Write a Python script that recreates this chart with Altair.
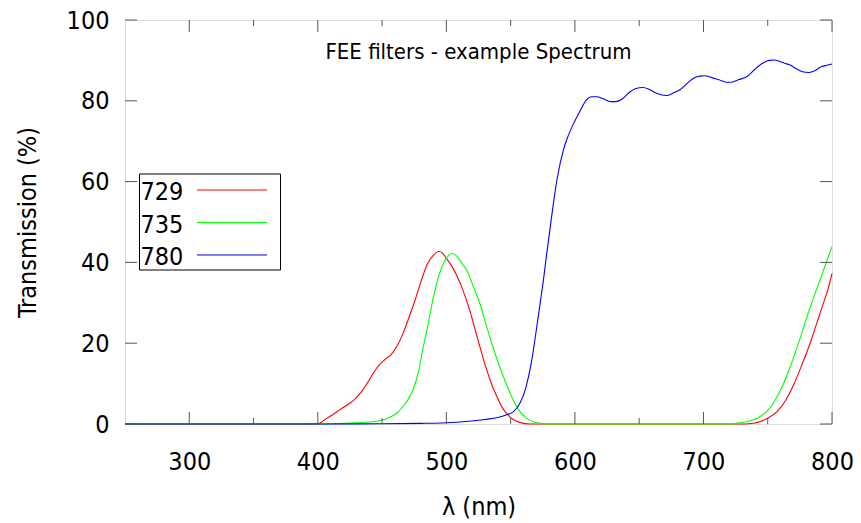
import altair as alt
import pandas as pd

# ---- data ----
wl_729 = [250, 300, 350, 390, 400, 407, 417, 425, 428, 434, 440, 445, 449, 453, 457, 462, 467, 471,
          475, 480, 485, 490, 494, 497, 500, 504, 508, 513, 518, 522, 526, 530, 534, 539, 544, 548,
          552, 557, 565, 600, 700, 732, 739, 745, 751, 757, 764, 770, 776, 783, 788, 793, 797, 800]
tr_729 = [0, 0, 0, 0, 0.1, 1.4, 3.5, 5.2, 5.9, 8.0, 10.9, 13.5, 15.0, 16.2, 17.2, 19.5, 23.0, 26.5,
          30.0, 35.0, 39.5, 41.8, 42.7, 42.3, 41.0, 39.2, 36.8, 33.0, 28.3, 23.8, 19.2, 14.8, 10.9, 7.0,
          3.8, 2.2, 1.1, 0.4, 0, 0, 0, 0, 0.2, 0.7, 1.6, 3.0, 5.9, 9.6, 14.2, 20.0, 24.8, 29.6, 33.5, 37.3]

wl_735 = [250, 300, 350, 400, 420, 440, 448, 455, 461, 468, 474, 478, 482, 486, 490, 494, 498, 502,
          505, 509, 512, 516, 521, 526, 531, 536, 541, 547, 550, 553, 557, 562, 568, 575, 580, 650,
          720, 728, 735, 742, 749, 755, 762, 768, 775, 781, 788, 794, 800]
tr_735 = [0, 0, 0, 0, 0.2, 0.5, 0.8, 1.5, 2.6, 5.0, 8.4, 12.5, 19.0, 25.0, 31.5, 36.5, 40.0, 41.8,
          42.2, 41.2, 39.8, 38.0, 34.0, 29.9, 24.5, 19.3, 14.6, 9.6, 7.3, 5.3, 3.2, 1.5, 0.5, 0.1, 0, 0,
          0, 0.3, 0.7, 1.5, 3.0, 5.5, 9.8, 14.6, 21.0, 27.0, 33.3, 38.6, 43.9]

wl_780 = [250, 300, 350, 400, 450, 480, 500, 515, 530, 540, 547, 552, 557, 562, 566, 570, 573, 575.5,
          578, 580.5, 583, 586, 591, 595, 599, 604, 609, 613, 617, 622, 628, 632, 637, 642, 647, 653,
          658, 664, 671, 677, 682, 688, 693, 697, 701, 706, 712, 718, 722, 727, 734, 740, 746, 751,
          755, 759, 763, 767, 772, 777, 782, 787, 792, 796, 800]
tr_780 = [0, 0, 0, 0, 0.05, 0.15, 0.3, 0.6, 1.1, 1.6, 2.3, 3.0, 5.0, 9.2, 15.0, 23.3, 30.0, 35.6,
          42.0, 48.0, 54.0, 60.4, 67.8, 71.5, 74.4, 77.5, 80.2, 81.0, 81.0, 80.5, 79.8, 79.8, 80.5, 82.0,
          83.0, 83.3, 82.8, 81.8, 81.3, 82.0, 82.8, 84.5, 85.7, 86.1, 86.2, 85.8, 85.2, 84.6, 84.6,
          85.2, 86.0, 87.8, 89.3, 90.0, 90.1, 89.8, 89.3, 88.9, 88.0, 87.2, 87.0, 87.5, 88.5, 88.8, 89.1]

series_names = ["729", "735", "780"]
series_colors = ["#ff0000", "#00ff00", "#0000ff"]

x_major = [300, 400, 500, 600, 700, 800]
x_minor = [350, 450, 550, 650, 750]
y_major = [0, 20, 40, 60, 80, 100]

title_text = "FEE filters - example Spectrum"
x_title = "λ (nm)"
y_title = "Transmission (%)"

# ---- layout ----
W, H = 707, 404
FONT = "DejaVu Sans Condensed, DejaVu Sans, sans-serif"
FS = 25
TICK_COLOR = "#555555"

rows = []
for name, wls, trs in [("729", wl_729, tr_729), ("735", wl_735, tr_735), ("780", wl_780, tr_780)]:
    for w, t in zip(wls, trs):
        rows.append({"wl": w, "T": t, "series": name})
df = pd.DataFrame(rows)

xscale = alt.Scale(domain=[250, 800], nice=False, zero=False)
yscale = alt.Scale(domain=[0, 100], nice=False)

x_axis = alt.Axis(values=x_major, title=x_title, domain=False, ticks=False, grid=False,
                  labelFlush=False, labelOverlap=False,
                  labelFont=FONT, labelFontSize=FS, labelColor="black", labelPadding=25,
                  titleFont=FONT, titleFontSize=FS, titleFontWeight="normal", titleColor="black",
                  titlePadding=20)
y_axis = alt.Axis(values=y_major, title=y_title, domain=False, ticks=False, grid=False,
                  labelFlush=False, labelOverlap=False,
                  labelFont=FONT, labelFontSize=FS, labelColor="black", labelPadding=16,
                  titleFont=FONT, titleFontSize=FS, titleFontWeight="normal", titleColor="black",
                  titlePadding=26)

X = lambda: alt.X("wl:Q", scale=xscale, axis=x_axis, title=x_title)
Y = lambda: alt.Y("T:Q", scale=yscale, axis=y_axis, title=y_title)

lines = alt.Chart(df).mark_line(strokeWidth=1.1, interpolate="monotone").encode(
    x=X(), y=Y(),
    color=alt.Color("series:N", scale=alt.Scale(domain=series_names, range=series_colors), legend=None),
    detail="series:N",
)

xmaj = pd.DataFrame({"wl": x_major})
xmin = pd.DataFrame({"wl": x_minor})
ymaj = pd.DataFrame({"T": y_major})

def xticks(data, length):
    bottom = alt.Chart(data).mark_rule(color=TICK_COLOR, strokeWidth=1).encode(
        x=X(), y=alt.value(H), y2=alt.value(H - length))
    top = alt.Chart(data).mark_rule(color=TICK_COLOR, strokeWidth=1).encode(
        x=X(), y=alt.value(0), y2=alt.value(length))
    return [bottom, top]

yt_left = alt.Chart(ymaj).mark_rule(color=TICK_COLOR, strokeWidth=1).encode(
    y=Y(), x=alt.value(0), x2=alt.value(12))
yt_right = alt.Chart(ymaj).mark_rule(color=TICK_COLOR, strokeWidth=1).encode(
    y=Y(), x=alt.value(W), x2=alt.value(W - 12))

title = alt.Chart(pd.DataFrame({"t": [title_text]})).mark_text(
    font=FONT, fontSize=22, color="black", align="center", baseline="middle").encode(
    text="t:N", x=alt.value(W / 2), y=alt.value(32))

# legend (gnuplot-like box: label left, sample line right)
legend_layers = []
leg_box = alt.Chart(pd.DataFrame({"a": [0]})).mark_rect(
    fill="white", stroke="black", strokeWidth=1).encode(
    x=alt.value(14.5), x2=alt.value(155.5), y=alt.value(154), y2=alt.value(250))
legend_layers.append(leg_box)
for i, (name, col) in enumerate(zip(series_names, series_colors)):
    yc = 171 + i * 32.5
    legend_layers.append(
        alt.Chart(pd.DataFrame({"s": [name]})).mark_text(
            font=FONT, fontSize=FS, color="black", align="left", baseline="middle").encode(
            text="s:N", x=alt.value(15.5), y=alt.value(yc + 1)))
    legend_layers.append(
        alt.Chart(pd.DataFrame({"s": [name]})).mark_rule(color=col, strokeWidth=1.1).encode(
            x=alt.value(72), x2=alt.value(142), y=alt.value(yc - 1)))

chart = alt.layer(
    lines, *xticks(xmaj, 12), *xticks(xmin, 6), yt_left, yt_right, title, *legend_layers
).properties(
    width=W, height=H,
    autosize=alt.AutoSizeParams(type="none"),
    padding={"left": 125, "top": 20, "right": 29, "bottom": 99},
).configure_view(
    stroke="black", strokeWidth=1.2
).configure(background="white")

chart.save("out.html", embed_options={"renderer": "svg", "actions": False})
